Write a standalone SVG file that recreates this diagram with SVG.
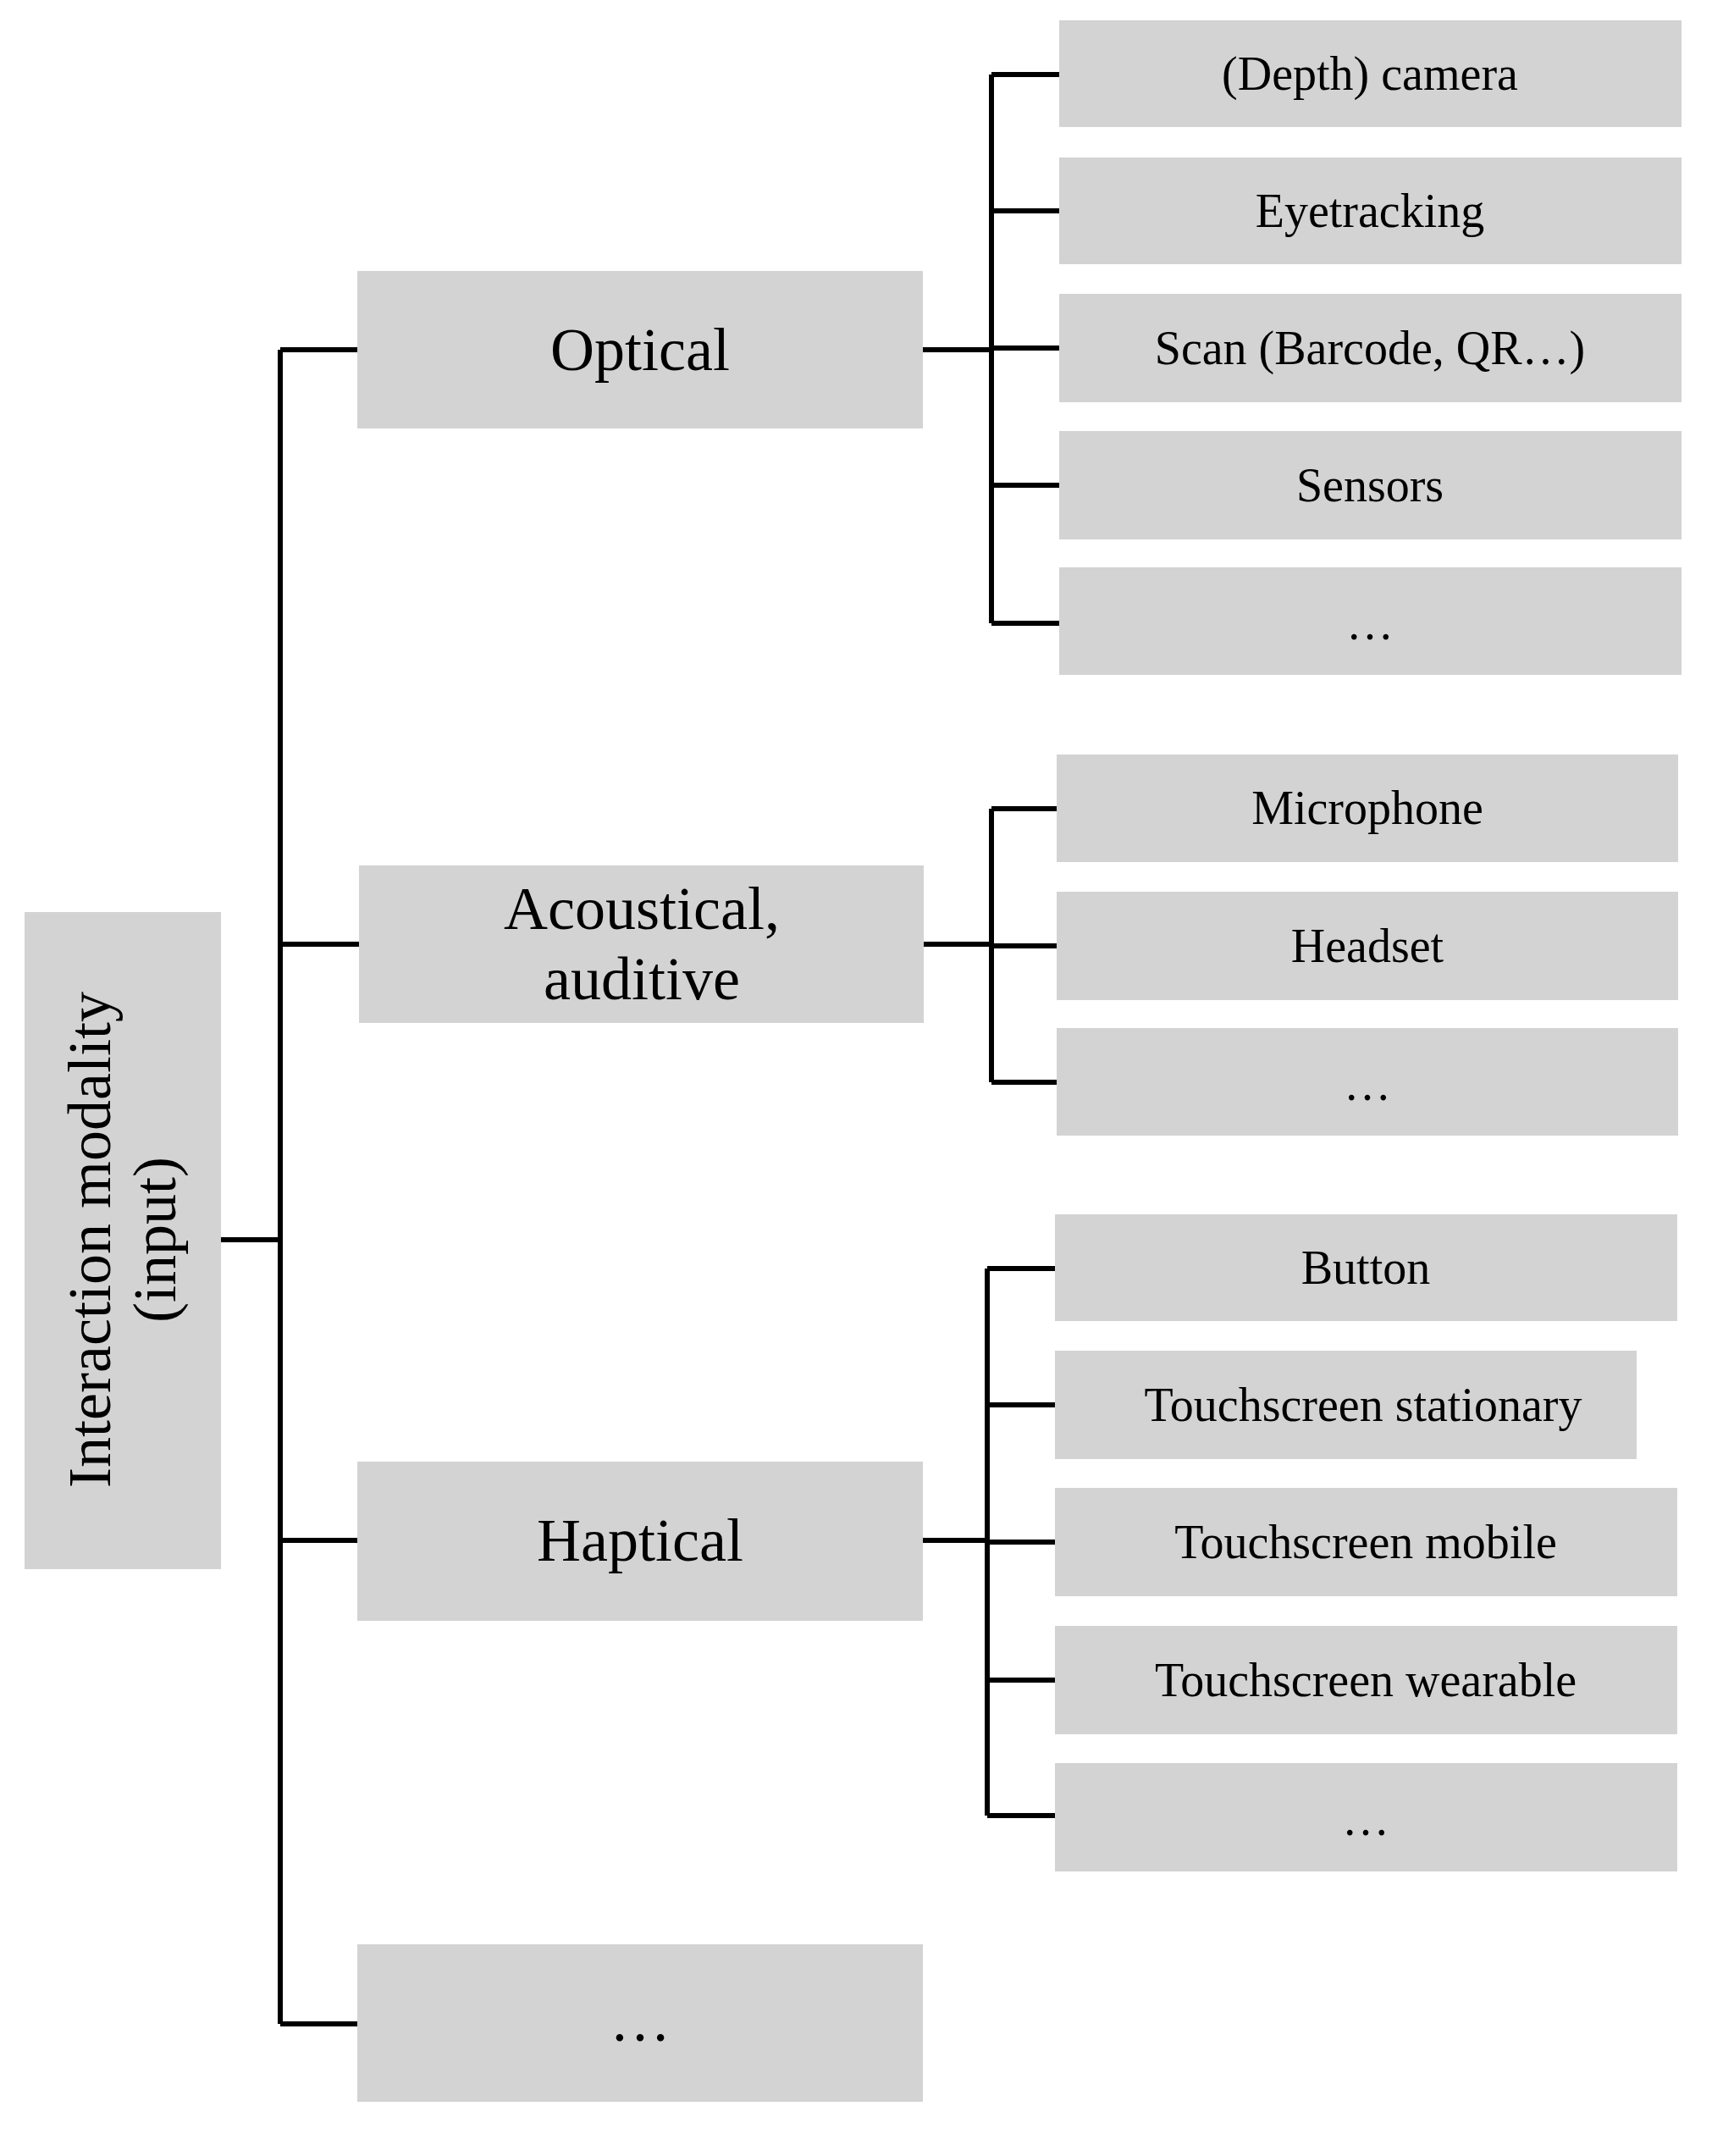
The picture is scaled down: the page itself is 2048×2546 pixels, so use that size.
<svg xmlns="http://www.w3.org/2000/svg" width="2048" height="2546" viewBox="0 0 2048 2546">
<style>
.b{fill:#d3d3d3}
.t{font-family:"Liberation Serif","DejaVu Serif",serif;fill:#000;text-anchor:middle}
.c{font-size:56px}
.m{font-size:72px}
#conn path{fill:none;stroke:#000;stroke-width:6}
</style>
<rect width="2048" height="2546" fill="#fff"/>
<g id="conn">
<path d="M261 1464H331M331 413V2390M331 413H422M331 1115H424M331 1819H422M331 2390H422"/>
<path d="M1090 413H1171M1171 88V736M1171 88H1251M1171 249H1251M1171 411H1251M1171 573H1251M1171 736H1251"/>
<path d="M1091 1115H1171M1171 955V1278M1171 955H1248M1171 1117H1248M1171 1278H1248"/>
<path d="M1090 1819H1166M1166 1498V2144M1166 1498H1246M1166 1659H1246M1166 1821H1246M1166 1984H1246M1166 2144H1246"/>
</g>
<g id="root"><rect class="b" x="29" y="1077" width="232" height="776"/>
<text class="t m" transform="translate(145 1464) rotate(-90)"><tspan x="0" y="-15">Interaction modality</tspan><tspan x="0" y="62">(input)</tspan></text></g>
<g id="optical"><rect class="b" x="422" y="320" width="668" height="186"/><text class="t m" x="756" y="437">Optical</text></g>
<g id="acoustical"><rect class="b" x="424" y="1022" width="667" height="186"/><text class="t m" x="758" y="1097">Acoustical,</text><text class="t m" x="758" y="1180">auditive</text></g>
<g id="haptical"><rect class="b" x="422" y="1726" width="668" height="188"/><text class="t m" x="756" y="1843">Haptical</text></g>
<g id="more1"><rect class="b" x="422" y="2296" width="668" height="186"/><text class="t m" x="756" y="2410">…</text></g>
<g id="o1"><rect class="b" x="1251" y="24" width="735" height="126"/><text class="t c" x="1618" y="106">(Depth) camera</text></g>
<g id="o2"><rect class="b" x="1251" y="186" width="735" height="126"/><text class="t c" x="1618" y="268">Eyetracking</text></g>
<g id="o3"><rect class="b" x="1251" y="347" width="735" height="128"/><text class="t c" x="1618" y="430">Scan (Barcode, QR…)</text></g>
<g id="o4"><rect class="b" x="1251" y="509" width="735" height="128"/><text class="t c" x="1618" y="592">Sensors</text></g>
<g id="o5"><rect class="b" x="1251" y="670" width="735" height="127"/><text class="t c" x="1618" y="755">…</text></g>
<g id="a1"><rect class="b" x="1248" y="891" width="734" height="127"/><text class="t c" x="1615" y="973">Microphone</text></g>
<g id="a2"><rect class="b" x="1248" y="1053" width="734" height="128"/><text class="t c" x="1615" y="1136">Headset</text></g>
<g id="a3"><rect class="b" x="1248" y="1214" width="734" height="127"/><text class="t c" x="1615" y="1299">…</text></g>
<g id="h1"><rect class="b" x="1246" y="1434" width="735" height="126"/><text class="t c" x="1613" y="1516">Button</text></g>
<g id="h2"><rect class="b" x="1246" y="1595" width="687" height="128"/><text class="t c" x="1610" y="1678">Touchscreen stationary</text></g>
<g id="h3"><rect class="b" x="1246" y="1757" width="735" height="128"/><text class="t c" x="1613" y="1840">Touchscreen mobile</text></g>
<g id="h4"><rect class="b" x="1246" y="1920" width="735" height="128"/><text class="t c" x="1613" y="2003">Touchscreen wearable</text></g>
<g id="h5"><rect class="b" x="1246" y="2082" width="735" height="128"/><text class="t c" x="1613" y="2167">…</text></g>
</svg>
